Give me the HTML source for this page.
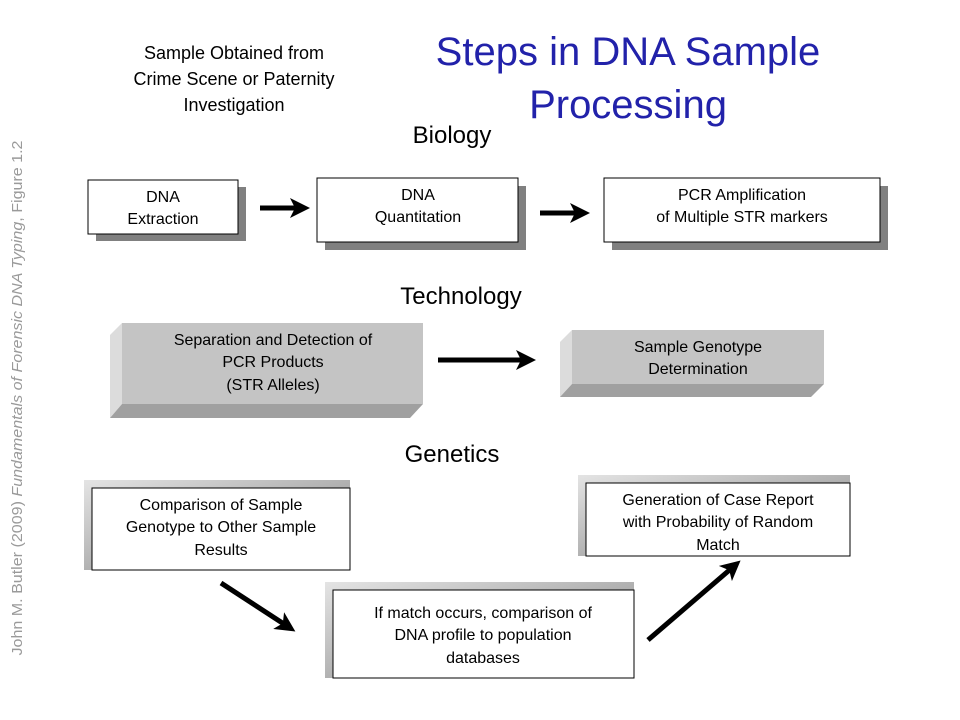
<!DOCTYPE html>
<html><head><meta charset="utf-8"><style>
html,body{margin:0;padding:0;background:#fff;}
svg{display:block;}
.t{font-family:"Liberation Sans",sans-serif;fill:#000;}
</style></head><body>
<svg width="960" height="720" viewBox="0 0 960 720" xmlns="http://www.w3.org/2000/svg">
<defs>
<marker id="ah" markerWidth="4" markerHeight="4" refX="2" refY="2" orient="auto" markerUnits="strokeWidth">
<path d="M0,0 L4,2 L0,4 L1,2 Z" fill="#000"/></marker>
<linearGradient id="fr" x1="0" y1="0" x2="1" y2="1"><stop offset="0" stop-color="#e4e4e4"/><stop offset="1" stop-color="#808080"/></linearGradient>
</defs>
<text class="t" x="22" y="398" font-size="15" style="fill:#9a9a9a" text-anchor="middle" textLength="515" lengthAdjust="spacingAndGlyphs" transform="rotate(-90 22 398)">John M. Butler (2009) <tspan font-style="italic">Fundamentals of Forensic DNA Typing</tspan>, Figure 1.2</text>

<text class="t" x="628" y="65" font-size="40" text-anchor="middle" style="fill:#2222aa">Steps in DNA Sample</text>
<text class="t" x="628" y="118" font-size="40" text-anchor="middle" style="fill:#2222aa">Processing</text>

<g class="t" font-size="18" text-anchor="middle">
<text x="234" y="59">Sample Obtained from</text>
<text x="234" y="85">Crime Scene or Paternity</text>
<text x="234" y="111">Investigation</text>
</g>
<g class="t" font-size="24" text-anchor="middle">
<text x="452" y="143">Biology</text>
<text x="461" y="304">Technology</text>
<text x="452" y="462">Genetics</text>
</g>

<rect x="96" y="187" width="150" height="54" fill="#808080"/>
<rect x="88" y="180" width="150" height="54" fill="#fff" stroke="#000"/>
<rect x="325" y="186" width="201" height="64" fill="#808080"/>
<rect x="317" y="178" width="201" height="64" fill="#fff" stroke="#000"/>
<rect x="612" y="186" width="276" height="64" fill="#808080"/>
<rect x="604" y="178" width="276" height="64" fill="#fff" stroke="#000"/>
<g class="t" font-size="16" text-anchor="middle">
<text x="163" y="202">DNA</text><text x="163" y="224">Extraction</text>
<text x="418" y="200">DNA</text><text x="418" y="222">Quantitation</text>
<text x="742" y="200">PCR Amplification</text><text x="742" y="222">of Multiple STR markers</text>
</g>
<line x1="260" y1="208" x2="300" y2="208" stroke="#000" stroke-width="5" marker-end="url(#ah)"/>
<line x1="540" y1="213" x2="580" y2="213" stroke="#000" stroke-width="5" marker-end="url(#ah)"/>

<polygon points="110,335 122,323 122,404 110,418" fill="#dcdcdc"/>
<polygon points="110,418 122,404 423,404 410,418" fill="#a0a0a0"/>
<rect x="122" y="323" width="301" height="81" fill="#c4c4c4"/>
<polygon points="560,342 572,330 572,384 560,397" fill="#dcdcdc"/>
<polygon points="560,397 572,384 824,384 811,397" fill="#a0a0a0"/>
<rect x="572" y="330" width="252" height="54" fill="#c4c4c4"/>
<g class="t" font-size="16" text-anchor="middle">
<text x="273" y="345">Separation and Detection of</text>
<text x="273" y="367">PCR Products</text>
<text x="273" y="390">(STR Alleles)</text>
<text x="698" y="352">Sample Genotype</text>
<text x="698" y="374">Determination</text>
</g>
<line x1="438" y1="360" x2="526" y2="360" stroke="#000" stroke-width="5" marker-end="url(#ah)"/>

<rect x="84" y="480" width="266" height="90" fill="url(#fr)"/>
<rect x="92" y="488" width="258" height="82" fill="#fff" stroke="#000"/>
<rect x="325" y="582" width="309" height="96" fill="url(#fr)"/>
<rect x="333" y="590" width="301" height="88" fill="#fff" stroke="#000"/>
<rect x="578" y="475" width="272" height="81" fill="url(#fr)"/>
<rect x="586" y="483" width="264" height="73" fill="#fff" stroke="#000"/>
<g class="t" font-size="16" text-anchor="middle">
<text x="221" y="510">Comparison of Sample</text>
<text x="221" y="532">Genotype to Other Sample</text>
<text x="221" y="555">Results</text>
<text x="483" y="618">If match occurs, comparison of</text>
<text x="483" y="640">DNA profile to population</text>
<text x="483" y="663">databases</text>
<text x="718" y="505">Generation of Case Report</text>
<text x="718" y="527">with Probability of Random</text>
<text x="718" y="550">Match</text>
</g>
<line x1="221" y1="583" x2="287" y2="626" stroke="#000" stroke-width="5" marker-end="url(#ah)"/>
<line x1="648" y1="640" x2="733" y2="567" stroke="#000" stroke-width="5" marker-end="url(#ah)"/>
</svg>
</body></html>
